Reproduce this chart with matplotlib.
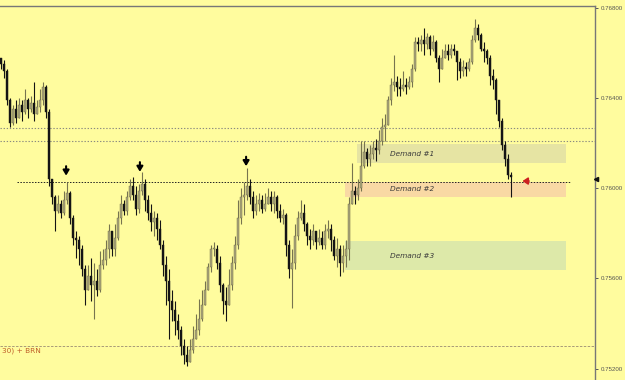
import matplotlib
matplotlib.use("Agg")
import matplotlib.pyplot as plt
import numpy as np

# ---------------- data ----------------
first_open = 0.7658
closes = [
    0.7655, 0.7652, 0.7639, 0.7629, 0.7635, 0.7631, 0.7637, 0.7634, 0.7639, 0.7635,
    0.7638, 0.7633, 0.7636, 0.7639, 0.7645, 0.7634, 0.7604, 0.7596, 0.7590, 0.7593,
    0.7589, 0.7595, 0.7598, 0.7587, 0.7578, 0.7577, 0.7573, 0.7564, 0.7555, 0.7561,
    0.7557, 0.7559, 0.7555, 0.7566, 0.7568, 0.7573, 0.7581, 0.7573, 0.7578, 0.7587,
    0.7593, 0.7590, 0.7596, 0.7601, 0.7597, 0.7591, 0.7599, 0.7602, 0.7595, 0.7589,
    0.7585, 0.7587, 0.7582, 0.7575, 0.7566, 0.7559, 0.7550, 0.7546, 0.7541, 0.7537,
    0.7530, 0.7526, 0.7523, 0.7528, 0.7533, 0.7537, 0.7542, 0.7548, 0.7555, 0.7565,
    0.7573, 0.7573, 0.7567, 0.7557, 0.7550, 0.7548, 0.7557, 0.7567, 0.7575, 0.7587,
    0.7596, 0.7597, 0.7601, 0.7596, 0.7590, 0.7593, 0.7595, 0.7591, 0.7593, 0.7596,
    0.7593, 0.7596, 0.7590, 0.7587, 0.7588, 0.7575, 0.7564, 0.7567, 0.7579, 0.7587,
    0.7589, 0.7584, 0.7579, 0.7577, 0.7581, 0.7576, 0.7578, 0.7575, 0.7581, 0.7582,
    0.7577, 0.7570, 0.7573, 0.7567, 0.7570, 0.7573, 0.7593, 0.7599, 0.7597, 0.7600,
    0.7610, 0.7616, 0.7613, 0.7615, 0.7618, 0.7617, 0.7621, 0.7627, 0.7628, 0.7639,
    0.7646, 0.7647, 0.7645, 0.7644, 0.7646, 0.7645, 0.7647, 0.7653, 0.7665, 0.7664,
    0.7666, 0.7664, 0.7667, 0.7662, 0.7665, 0.7658, 0.7653, 0.7658, 0.7661, 0.7659,
    0.7662, 0.7661, 0.7656, 0.7652, 0.7654, 0.7653, 0.7656, 0.7666, 0.7671, 0.7668,
    0.7662, 0.7661, 0.7658, 0.7650, 0.7648, 0.7639, 0.7630, 0.7619, 0.7613, 0.7606,
    0.7605,
]
highs = [
    0.7658, 0.7657, 0.7653, 0.7640, 0.7637, 0.7639, 0.7640, 0.7639, 0.7644, 0.7640,
    0.7641, 0.7647, 0.7639, 0.7644, 0.7647, 0.7646, 0.7635, 0.7604, 0.7597, 0.7597,
    0.7595, 0.7599, 0.7603, 0.7599, 0.7588, 0.7581, 0.7579, 0.7575, 0.7566, 0.7566,
    0.7569, 0.7567, 0.7564, 0.7572, 0.7573, 0.7577, 0.7584, 0.7581, 0.7584, 0.7590,
    0.7597, 0.7595, 0.7599, 0.7604, 0.7605, 0.7601, 0.7602, 0.7607, 0.7604, 0.7597,
    0.7593, 0.7590, 0.7589, 0.7586, 0.7577, 0.7570, 0.7564, 0.7555, 0.7550, 0.7544,
    0.7539, 0.7533, 0.7530, 0.7533, 0.7539, 0.7544, 0.7551, 0.7555, 0.7559, 0.7567,
    0.7575, 0.7576, 0.7575, 0.7570, 0.7558, 0.7556, 0.7564, 0.7570, 0.7579, 0.7595,
    0.7600, 0.7603, 0.7609, 0.7604, 0.7599, 0.7597, 0.7598, 0.7597, 0.7598, 0.7600,
    0.7599, 0.7599, 0.7597, 0.7593, 0.7591, 0.7589, 0.7577, 0.7573, 0.7584, 0.7590,
    0.7595, 0.7593, 0.7585, 0.7582, 0.7584, 0.7581, 0.7582, 0.7581, 0.7584, 0.7586,
    0.7584, 0.7579, 0.7578, 0.7575, 0.7575, 0.7577, 0.7596, 0.7611, 0.7601, 0.7604,
    0.7621, 0.7621, 0.7618, 0.7619, 0.7621, 0.7622, 0.7626, 0.7631, 0.7633, 0.7641,
    0.7649, 0.7659, 0.7650, 0.7649, 0.7652, 0.7649, 0.7650, 0.7655, 0.7667, 0.7667,
    0.7668, 0.7671, 0.7669, 0.7668, 0.7668, 0.7666, 0.7659, 0.7662, 0.7664, 0.7664,
    0.7664, 0.7664, 0.7661, 0.7658, 0.7657, 0.7656, 0.7658, 0.7668, 0.7675, 0.7673,
    0.7669, 0.7665, 0.7662, 0.7659, 0.7653, 0.7649, 0.7639, 0.7631, 0.7621, 0.7615,
    0.7607,
]
lows = [
    0.7653, 0.7649, 0.7637, 0.7627, 0.7628, 0.7629, 0.7633, 0.7630, 0.7633, 0.7631,
    0.7634, 0.7630, 0.7633, 0.7634, 0.7637, 0.7631, 0.7601, 0.7593, 0.7581, 0.7589,
    0.7587, 0.7588, 0.7593, 0.7584, 0.7575, 0.7569, 0.7566, 0.7561, 0.7548, 0.7555,
    0.7550, 0.7542, 0.7552, 0.7554, 0.7564, 0.7566, 0.7569, 0.7570, 0.7570, 0.7577,
    0.7584, 0.7588, 0.7588, 0.7595, 0.7595, 0.7588, 0.7589, 0.7597, 0.7590, 0.7586,
    0.7581, 0.7579, 0.7577, 0.7573, 0.7561, 0.7548, 0.7533, 0.7541, 0.7535, 0.7533,
    0.7526, 0.7522, 0.7521, 0.7524, 0.7527, 0.7533, 0.7535, 0.7541, 0.7548, 0.7555,
    0.7563, 0.7570, 0.7564, 0.7554, 0.7544, 0.7541, 0.7550, 0.7555, 0.7564, 0.7573,
    0.7584, 0.7588, 0.7595, 0.7593, 0.7587, 0.7588, 0.7590, 0.7589, 0.7590, 0.7593,
    0.7590, 0.7589, 0.7587, 0.7585, 0.7584, 0.7570, 0.7560, 0.7547, 0.7564, 0.7577,
    0.7586, 0.7581, 0.7575, 0.7573, 0.7575, 0.7573, 0.7575, 0.7573, 0.7573, 0.7578,
    0.7572, 0.7568, 0.7565, 0.7561, 0.7563, 0.7565, 0.7568, 0.7593, 0.7593, 0.7595,
    0.7599, 0.7609, 0.7610, 0.7610, 0.7613, 0.7612, 0.7615, 0.7619, 0.7621, 0.7628,
    0.7637, 0.7643, 0.7641, 0.7641, 0.7643, 0.7642, 0.7644, 0.7645, 0.7652, 0.7661,
    0.7661, 0.7659, 0.7662, 0.7659, 0.7661, 0.7656, 0.7647, 0.7653, 0.7658, 0.7657,
    0.7658, 0.7659, 0.7648, 0.7649, 0.7650, 0.7650, 0.7652, 0.7655, 0.7665, 0.7666,
    0.7661, 0.7656, 0.7655, 0.7646, 0.7644, 0.7633, 0.7627, 0.7617, 0.7610, 0.7604,
    0.7596,
]

level_lines = [0.76267, 0.76209]          # grey dotted levels
key_level = 0.76030                       # black dotted level
brn_level = 0.75302                       # bottom dashed level
brn_label = "30) + BRN"
zones = [
    ("Demand #1", 0.76112, 0.76196, "#e6e4a3"),
    ("Demand #2", 0.75961, 0.76030, "#f9d9a4"),
    ("Demand #3", 0.75637, 0.75766, "#dde9a9"),
]
arrow_marks = [(21.7, 0.76098, 0.76056), (46.3, 0.76116, 0.76073), (81.7, 0.76140, 0.76098)]
yticks = [0.75200, 0.75600, 0.76000, 0.76400, 0.76800]

# ---------------- figure ----------------
bg = "#fffc9e"
fig = plt.figure(figsize=(6.25, 3.8), dpi=100)
fig.patch.set_facecolor(bg)
ax = fig.add_axes([0, 0, 595 / 625, 374 / 380])
ax.set_facecolor(bg)

n = len(closes)
xs = np.arange(n)
opens = [first_open] + closes[:-1]

# zones
for name, lo, hi, col in zones:
    x0 = 118.7 if name == "Demand #1" else 114.7
    ax.fill_between([x0, 188.3], lo, hi, color=col, lw=0, zorder=1)
    ax.text(137, (lo + hi) / 2, name, fontsize=5.3, style="italic",
            color="#3a3a3a", ha="center", va="center", zorder=2)

# horizontal levels
for lv in level_lines:
    ax.axhline(lv, color="#8a8a80", lw=0.8, ls=(0, (1.2, 1.6)), zorder=2)
ax.plot([5.3, 189.7], [key_level, key_level], color="#222222", lw=0.7,
        ls=(0, (1.5, 1.5)), zorder=2)
ax.axhline(brn_level, color="#a89a78", lw=0.7, ls=(0, (2.5, 1.5)), zorder=2)
ax.text(0.3, brn_level - 0.00025, brn_label, fontsize=5.3, color="#c0602a",
        ha="left", va="center", zorder=3)

# candles
bull_face, bull_edge = "#aaa67a", "#6c6846"
bear_col = "#141414"
for i in range(n):
    o, c, h, l = opens[i], closes[i], highs[i], lows[i]
    top = max(h, o, c)
    bot = min(l, o, c)
    bull = c >= o
    wc = "#77744f" if bull else bear_col
    ax.vlines(xs[i], bot, top, color=wc, lw=0.8, zorder=4)
    body = abs(c - o)
    if body < 0.00003:
        body = 0.00003
    ax.bar(xs[i], body, bottom=min(o, c), width=0.62,
           color=bull_face if bull else bear_col,
           edgecolor=bull_edge if bull else bear_col, lw=0.3, zorder=5)

# down arrows
for x, y_tail, y_tip in arrow_marks:
    ax.annotate("", xy=(x, y_tip), xytext=(x, y_tail),
                arrowprops=dict(arrowstyle="-|>,head_width=0.18,head_length=0.3",
                                color="black", lw=1.5, shrinkA=0, shrinkB=0),
                zorder=6)

# red arrow
ax.annotate("", xy=(173.8, key_level + 0.00002), xytext=(176.0, key_level + 0.00002),
            arrowprops=dict(arrowstyle="-|>,head_width=0.2,head_length=0.3",
                            color="#cc2020", lw=1.3, shrinkA=0, shrinkB=0), zorder=6)

# current price marker on axis
ax.plot(198.3, 0.76040, marker="<", ms=3, color="#111111", clip_on=False, zorder=7)

# axes styling
ax.set_xlim(-1 / 3, 198)
ax.set_ylim(0.75149, 0.76809)
for s in ["left", "bottom"]:
    ax.spines[s].set_visible(False)
for s in ["top", "right"]:
    ax.spines[s].set_color("#777777")
    ax.spines[s].set_linewidth(1.0)
ax.set_xticks([])
ax.yaxis.tick_right()
ax.set_yticks(yticks)
ax.set_yticklabels([f"{v:.5f}" for v in yticks], family="Liberation Sans")
ax.tick_params(axis="y", direction="out", length=2.5, width=0.7, pad=1.8,
               labelsize=4.4, colors="#555555")

fig.savefig("out.png", dpi=100, facecolor=bg)
